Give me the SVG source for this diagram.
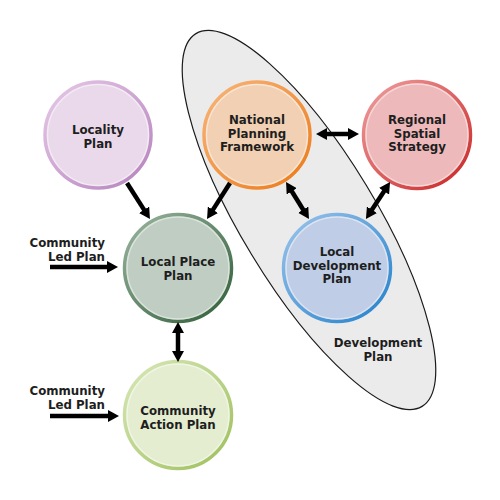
<svg xmlns="http://www.w3.org/2000/svg" width="500" height="500" viewBox="0 0 500 500">
  <defs>
    <marker id="ah" viewBox="0 0 11 12" refX="1" refY="6" markerWidth="11" markerHeight="12" markerUnits="userSpaceOnUse" orient="auto-start-reverse">
      <path d="M0,0 L11,6 L0,12 z" fill="#000"/>
    </marker>
    <linearGradient id="gLoc" x1="0" y1="0" x2="1" y2="1"><stop offset="0" stop-color="#e6c9e8"/><stop offset="1" stop-color="#b583bd"/></linearGradient>
    <linearGradient id="gLpp" x1="0" y1="0" x2="1" y2="1"><stop offset="0" stop-color="#9bb5a0"/><stop offset="1" stop-color="#2f5e37"/></linearGradient>
    <linearGradient id="gNpf" x1="0" y1="0" x2="1" y2="1"><stop offset="0" stop-color="#f8b57a"/><stop offset="1" stop-color="#ec7a17"/></linearGradient>
    <linearGradient id="gRss" x1="0" y1="0" x2="1" y2="1"><stop offset="0" stop-color="#f0a0a0"/><stop offset="1" stop-color="#c92424"/></linearGradient>
    <linearGradient id="gLdp" x1="0" y1="0" x2="1" y2="1"><stop offset="0" stop-color="#9cc4ea"/><stop offset="1" stop-color="#2281cc"/></linearGradient>
    <linearGradient id="gCap" x1="0" y1="0" x2="1" y2="1"><stop offset="0" stop-color="#d8e8b8"/><stop offset="1" stop-color="#9ebf5c"/></linearGradient>
  </defs>
  <style>
    .lbl { font-family: "DejaVu Sans", "Liberation Sans", sans-serif; font-weight: bold; font-size: 11.8px; fill: #1e1e1e; text-anchor: middle; }
    .lblr { font-family: "DejaVu Sans", "Liberation Sans", sans-serif; font-weight: bold; font-size: 11.8px; fill: #1e1e1e; text-anchor: end; }
    .rim { stroke-width: 3.5; }
    .hl { fill: none; stroke: #ffffff; stroke-opacity: 0.45; stroke-width: 1.5; }
    .conn { stroke: #000; stroke-width: 4.5; fill: none; marker-end: url(#ah); }
    .conn2 { stroke: #000; stroke-width: 4.5; fill: none; marker-end: url(#ah); marker-start: url(#ah); }
  </style>

  <g id="development-plan">
    <ellipse cx="0" cy="0" rx="218" ry="67" transform="translate(309,220) rotate(58.75)" fill="#ebebeb" stroke="#1a1a1a" stroke-width="1.2"/>
    <text class="lbl" x="378" y="347">Development<tspan x="378" dy="13.8">Plan</tspan></text>
  </g>

  <g id="locality-plan">
    <circle cx="98" cy="135" r="53" fill="#e9d9ea" stroke="url(#gLoc)" class="rim"/>
    <circle cx="98" cy="135" r="50.5" class="hl"/>
    <text class="lbl" x="98" y="134">Locality<tspan x="98" dy="13.8">Plan</tspan></text>
  </g>

  <g id="local-place-plan">
    <circle cx="178" cy="268" r="53.5" fill="#bfcdc2" stroke="url(#gLpp)" class="rim"/>
    <circle cx="178" cy="268" r="51" class="hl"/>
    <text class="lbl" x="178" y="266">Local Place<tspan x="178" dy="13.8">Plan</tspan></text>
  </g>

  <g id="national-planning-framework">
    <circle cx="257" cy="135" r="53" fill="#f2d0b3" stroke="url(#gNpf)" class="rim"/>
    <circle cx="257" cy="135" r="50.5" class="hl"/>
    <text class="lbl" x="257" y="123.7">National<tspan x="257" dy="13.8">Planning</tspan><tspan x="257" dy="13.8">Framework</tspan></text>
  </g>

  <g id="regional-spatial-strategy">
    <circle cx="417" cy="135" r="53.5" fill="#edb9ba" stroke="url(#gRss)" class="rim"/>
    <circle cx="417" cy="135" r="51" class="hl"/>
    <text class="lbl" x="417" y="123.7">Regional<tspan x="417" dy="13.8">Spatial</tspan><tspan x="417" dy="13.8">Strategy</tspan></text>
  </g>

  <g id="local-development-plan">
    <circle cx="337" cy="268" r="53.5" fill="#bfcde6" stroke="url(#gLdp)" class="rim"/>
    <circle cx="337" cy="268" r="51" class="hl"/>
    <text class="lbl" x="337" y="255.7">Local<tspan x="337" dy="13.8">Development</tspan><tspan x="337" dy="13.8">Plan</tspan></text>
  </g>

  <g id="community-action-plan">
    <circle cx="178" cy="415" r="53.5" fill="#e4edcf" stroke="url(#gCap)" class="rim"/>
    <circle cx="178" cy="415" r="51" class="hl"/>
    <text class="lbl" x="178" y="415">Community<tspan x="178" dy="13.8">Action Plan</tspan></text>
  </g>

  <g id="community-led-plan-1">
    <text class="lblr" x="105" y="247">Community<tspan x="105" dy="13.8">Led Plan</tspan></text>
  </g>

  <g id="community-led-plan-2">
    <text class="lblr" x="105" y="395">Community<tspan x="105" dy="13.8">Led Plan</tspan></text>
  </g>

  <g id="connectors">
    <line class="conn" x1="50" y1="267" x2="108" y2="267"/>
    <line class="conn" x1="50" y1="416" x2="109" y2="416"/>
    <line class="conn" x1="127" y1="183" x2="144.6" y2="210.6"/>
    <line class="conn" x1="230" y1="183" x2="212.4" y2="210.6"/>
    <line class="conn2" x1="326" y1="134" x2="349" y2="134"/>
    <line class="conn2" x1="291.3" y1="190.5" x2="303.7" y2="210.5"/>
    <line class="conn2" x1="384.6" y1="190.4" x2="371.4" y2="210.6"/>
    <line class="conn2" x1="178" y1="332" x2="178" y2="352"/>
  </g>
</svg>
